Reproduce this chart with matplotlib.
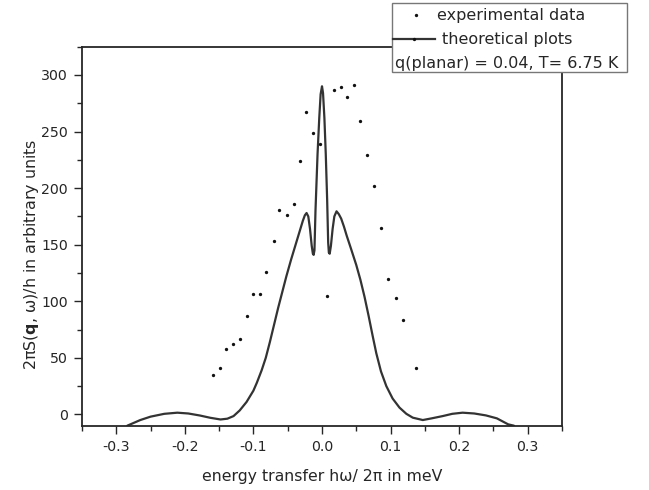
import matplotlib
matplotlib.use("Agg")
import matplotlib.pyplot as plt
from matplotlib.lines import Line2D
from matplotlib.patches import Rectangle
from matplotlib.ticker import MultipleLocator

plt.rcParams['font.family'] = ['DejaVu Sans']
plt.rcParams['mathtext.fontset'] = 'dejavusans'

# experimental data (energy transfer in meV, intensity in arbitrary units)
exp_x = [-0.1587, -0.1488, -0.1403, -0.1294, -0.1201, -0.1100, -0.1010, -0.0904,
         -0.0814, -0.0705, -0.0624, -0.0516, -0.0413, -0.0318, -0.0233, -0.0124,
         -0.0029, 0.0070, 0.0170, 0.0273, 0.0365, 0.0465, 0.0560, 0.0656,
         0.0757, 0.0859, 0.0959, 0.1083, 0.1179, 0.1374]
exp_y = [34.4, 41.3, 58.2, 62.0, 66.6, 86.7, 106.3, 106.3,
         126.0, 153.5, 180.9, 175.9, 186.0, 224.4, 267.1, 248.6,
         238.7, 104.4, 286.7, 289.0, 280.8, 290.9, 259.7, 229.4,
         202.3, 164.4, 120.0, 102.5, 83.8, 40.8]

# theoretical curve
theo_x = [-0.284, -0.265, -0.250, -0.230, -0.211, -0.195, -0.178, -0.163, -0.148,
          -0.138, -0.129, -0.120, -0.110, -0.100, -0.095, -0.088, -0.082, -0.076,
          -0.070, -0.064, -0.058, -0.052, -0.045, -0.037, -0.032, -0.028, -0.025,
          -0.0225, -0.0200, -0.0175, -0.0150, -0.0133, -0.0122, -0.0110, -0.0095,
          -0.0065, -0.004, -0.002, 0.0, 0.0015, 0.0035, 0.0055, 0.0075, 0.0090,
          0.0100, 0.0112, 0.0130, 0.0155, 0.0180, 0.0212, 0.0245, 0.028, 0.032,
          0.036, 0.042, 0.050, 0.056, 0.062, 0.068, 0.074, 0.0792, 0.086, 0.0938,
          0.103, 0.113, 0.123, 0.1324, 0.147, 0.160, 0.176, 0.190, 0.205, 0.222,
          0.239, 0.255, 0.2715, 0.280]
theo_y = [-10, -5, -2, 0.5, 1.5, 0.8, -1, -3, -4.5,
          -3.8, -1.5, 3.5, 11, 21, 28, 39, 50, 64,
          79, 94, 108, 122, 137, 153, 163, 171, 176,
          178, 175, 164, 149, 142, 141, 145, 180,
          230, 262, 283, 290, 284, 262, 230, 190, 152,
          143, 142, 149, 164, 175, 179.5, 177, 173, 166,
          158, 147, 132, 119, 104, 87, 69, 54, 38, 25,
          14, 6, 0.5, -2.9, -5, -3.5, -1.5, 0.5, 1.5, 0.8,
          -0.9, -3.5, -8.8, -10]

legend_labels = ["experimental data", "theoretical plots", "q(planar) = 0.04, T= 6.75 K"]

W, H = 649, 490
fig = plt.figure(figsize=(W / 100, H / 100), dpi=100)
ax = fig.add_axes([82 / W, 1 - 425.7 / H, (562 - 82) / W, (425.7 - 46.7) / H])

ink = '#262626'
ax.plot(theo_x, theo_y, color='#333333', lw=1.6, solid_joinstyle='round',
        solid_capstyle='round', zorder=2)
ax.plot(exp_x, exp_y, ls='none', marker='o', ms=2.4, color='#111111', mec='none', zorder=3)

ax.set_xlim(-0.35, 0.35)
ax.set_ylim(-10, 325)
ax.xaxis.set_minor_locator(MultipleLocator(0.05))
ax.yaxis.set_major_locator(MultipleLocator(50))
ax.yaxis.set_minor_locator(MultipleLocator(25))
ax.set_xticks([-0.3, -0.2, -0.1, 0.0, 0.1, 0.2, 0.3])
ax.set_xticklabels(['-0.3', '-0.2', '-0.1', '0.0', '0.1', '0.2', '0.3'])
ax.set_yticks([0, 50, 100, 150, 200, 250, 300])
ax.set_yticklabels(['0', '50', '100', '150', '200', '250', '300'])
ax.tick_params(which='both', direction='out', top=False, right=False,
               color=ink, width=1.0, labelsize=10.2, labelcolor=ink)
ax.tick_params(which='major', length=6, pad=4)
ax.tick_params(which='minor', length=3.5)
for s in ax.spines.values():
    s.set_color(ink)
    s.set_linewidth(1.3)

ax.set_xlabel('energy transfer hω/ 2π in meV', fontsize=11.3, color=ink)
ax.xaxis.set_label_coords(0.5, -(476.7 - 425.7) / (425.7 - 46.7))
ax.xaxis.label.set_va('center')
ax.set_ylabel(r'2πS($\mathbf{q}$, ω)/h in arbitrary units', fontsize=11.4, color=ink)
ax.yaxis.set_label_coords(-(82 - 32) / (562 - 82), (425.7 - 254) / (425.7 - 46.7))
ax.yaxis.label.set_va('center')

# legend box drawn manually (partially outside the axes)
bx0, bx1 = 391.7, 626.7
by0, by1 = 3.3, 71.7
fig.patches.append(Rectangle((bx0 / W, 1 - by1 / H), (bx1 - bx0) / W, (by1 - by0) / H,
                             transform=fig.transFigure, facecolor='white',
                             edgecolor='#777777', lw=1.0, zorder=5))
rows = [15.3, 39.3, 63.3]
fig.lines.append(Line2D([415.7 / W], [1 - rows[0] / H], transform=fig.transFigure,
                        ls='none', marker='o', ms=2.4, color='#111111', mec='none', zorder=6))
fig.lines.append(Line2D([393.3 / W, 435 / W], [1 - rows[1] / H, 1 - rows[1] / H],
                        transform=fig.transFigure, color='#333333', lw=1.6, zorder=6))
fig.lines.append(Line2D([414 / W], [1 - rows[1] / H], transform=fig.transFigure,
                        ls='none', marker='o', ms=2.4, color='#111111', mec='none', zorder=6))
fig.text(436.7 / W, 1 - rows[0] / H, legend_labels[0], fontsize=11.5, color=ink,
         va='center', ha='left', zorder=7)
fig.text(441.7 / W, 1 - rows[1] / H, legend_labels[1], fontsize=11.5, color=ink,
         va='center', ha='left', zorder=7)
fig.text(395 / W, 1 - rows[2] / H, legend_labels[2], fontsize=11.5, color=ink,
         va='center', ha='left', zorder=7)

fig.savefig('out.png', dpi=100)
